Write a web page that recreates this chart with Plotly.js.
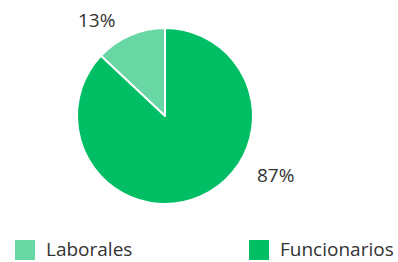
<!DOCTYPE html>
<html><head><meta charset="utf-8">
<script src="https://cdn.plot.ly/plotly-3.0.1.min.js"></script>
<style>html,body{margin:0;padding:0;background:#fff;}#chart{width:398px;height:262px;}</style>
</head><body><div id="chart"></div>
<script>
const categories = ["Laborales", "Funcionarios"];
const values = [13, 87];
const colors = ["#68D7A3", "#00BE64"];

const total = values.reduce((a, b) => a + b, 0);
const pctText = values.map(v => Math.round(v / total * 100) + "%");

const W = 398, H = 262;
const px = x => x / W, py = y => 1 - y / H;
const FONT = {family: "'Open Sans', sans-serif", size: 19, color: "#333333"};

// label anchor positions (pixels)
const labelPos = [[96, 20], [275, 175]];
// legend positions (pixels): square left x, text left x
const legendPos = [[15, 45], [249, 279]];
const legendY = 249;

const annotations = [];
const shapes = [];
categories.forEach((c, i) => {
  annotations.push({
    xref: "paper", yref: "paper", x: px(labelPos[i][0]), y: py(labelPos[i][1]),
    xanchor: "center", yanchor: "middle", showarrow: false,
    text: pctText[i], font: FONT
  });
  annotations.push({
    xref: "paper", yref: "paper", x: px(legendPos[i][1]), y: py(legendY),
    xanchor: "left", yanchor: "middle", showarrow: false, borderpad: 0,
    text: c, font: FONT
  });
  shapes.push({
    type: "rect", xref: "paper", yref: "paper",
    x0: px(legendPos[i][0]), x1: px(legendPos[i][0] + 20),
    y0: py(250 + 10), y1: py(250 - 10),
    fillcolor: colors[i], line: {width: 0}
  });
});

const data = [{
  type: "pie",
  labels: categories,
  values: values,
  sort: false,
  direction: "clockwise",
  rotation: -values[0] / total * 360,
  textinfo: "none",
  hoverinfo: "none",
  marker: {colors: colors, line: {color: "#ffffff", width: 2}},
  domain: {x: [px(77), px(253)], y: [py(204), py(28)]},
  showlegend: false
}];

const layout = {
  width: W, height: H,
  margin: {l: 0, r: 0, t: 0, b: 0},
  paper_bgcolor: "#ffffff",
  showlegend: false,
  annotations: annotations,
  shapes: shapes
};

Plotly.newPlot("chart", data, layout, {displayModeBar: false, staticPlot: true});
</script>
</body></html>
